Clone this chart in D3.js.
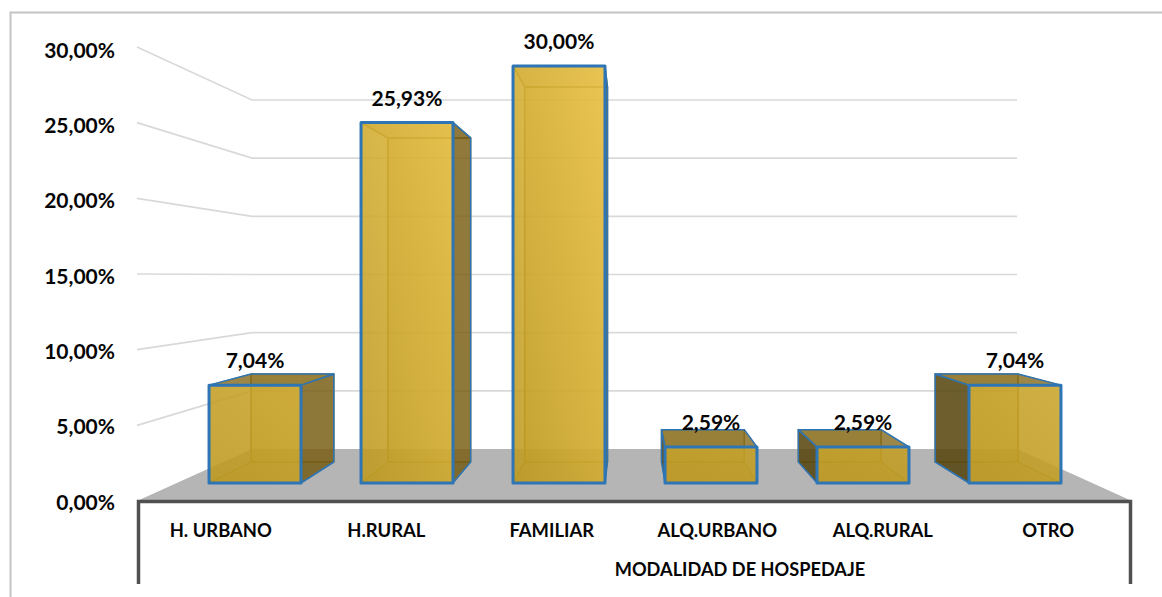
<!DOCTYPE html>
<html>
<head>
<meta charset="utf-8">
<script src="https://cdn.jsdelivr.net/npm/d3@7"></script>
<style>
html, body { margin: 0; padding: 0; background: #fff; }
svg { display: block; }
text { font-family: Lato, "Open Sans", sans-serif; font-weight: 700; fill: #050505; }
</style>
</head>
<body>
<div class="container"></div>
<script>
const categories = ["H. URBANO", "H.RURAL", "FAMILIAR", "ALQ.URBANO", "ALQ.RURAL", "OTRO"];
const values = [7.04, 25.93, 30.00, 2.59, 2.59, 7.04];
const tickValues = [0, 5, 10, 15, 20, 25, 30];
const axisTitle = "MODALIDAD DE HOSPEDAJE";

const width = 1162, height = 597;
const BLUE = "#2e75b6", OLIVE = "#8f7b2c";
const fmt = v => v.toFixed(2).replace(".", ",") + "%";

const svg = d3.select(".container").append("svg")
    .attr("width", width)
    .attr("height", height);

// the 3d look is just four planes, each with its own y scale
const yEdge = d3.scaleLinear().domain([0, 30]).range([501, 47]);   // left edge of the wall
const yWall = d3.scaleLinear().domain([0, 30]).range([449, 100]);  // back wall
const yFront = d3.scaleLinear().domain([0, 30]).range([483, 66]);  // front of the bars
const yBack = d3.scaleLinear().domain([0, 30]).range([462, 87]);   // back of the bars
const yTicks = d3.scaleLinear().domain([0, 30]).range([502, 50]);  // tick labels sit a bit off the edge

const xFront = d3.scaleBand().domain(categories).range([149, 1121]).padding(.395);
const xBack = d3.scaleBand().domain(categories).range([197, 1072]).padding(.395);
const xLabels = d3.scaleBand().domain(categories).range([138, 1131]);

const edgeX = 137, wallL = 252, wallR = 1017, edgeR = 1132;

// taller bars reach a lighter gold
const goldTop = d3.scaleLinear().domain([0, 30]).range(["#c09c22", "#e9c044"]);
const defs = svg.append("defs");
categories.forEach((c, i) => {
    const grad = defs.append("linearGradient")
        .attr("id", "gold" + i)
        .attr("x1", 0).attr("y1", 1).attr("x2", 1).attr("y2", 0);
    grad.append("stop").attr("offset", 0).attr("stop-color", "#bd991f");
    grad.append("stop").attr("offset", 1).attr("stop-color", goldTop(values[i]));
});

// frame of the picture
svg.append("path")
    .attr("d", "M10.5,597V12.5H1162")
    .attr("fill", "none")
    .attr("stroke", "#c4c4c4")
    .attr("stroke-width", 2);

// floor
svg.append("polygon")
    .attr("points", [[edgeX, yEdge(0)], [wallL, yWall(0)], [wallR, yWall(0)], [edgeR, yEdge(0)]].join(" "))
    .attr("fill", "#b5b5b5");

// gridlines, bent where the side wall meets the back wall
svg.append("g").selectAll("polyline")
    .data(tickValues.filter(d => d > 0))
    .enter()
    .append("polyline")
    .attr("points", d => [[edgeX, yEdge(d)], [wallL, yWall(d)], [wallR, yWall(d)]].join(" "))
    .attr("fill", "none")
    .attr("stroke", "#d9d9d9")
    .attr("stroke-width", 1.7);

// y axis labels
const yAxis = svg.append("g")
    .attr("transform", "translate(115,0)")
    .call(d3.axisLeft(yTicks).tickValues(tickValues).tickFormat(fmt).tickSize(0).tickPadding(0));
yAxis.select(".domain").remove();
yAxis.selectAll("text").style("font-size", "21px").attr("dy", ".34em");

// bars
const bars = svg.append("g").selectAll("g")
    .data(categories.map((c, i) => ({ c: c, v: values[i], i: i })))
    .enter()
    .append("g");

const poly = (sel, pts, fill, opacity, stroke, sw) => sel.append("polygon")
    .attr("points", pts.join(" "))
    .attr("fill", fill)
    .attr("fill-opacity", opacity)
    .attr("stroke", stroke)
    .attr("stroke-width", sw)
    .attr("stroke-linejoin", "round");

bars.each(function (d) {
    const g = d3.select(this);
    const fl = xFront(d.c), fr = fl + xFront.bandwidth();
    const bl = xBack(d.c), br = bl + xBack.bandwidth();
    const ft = yFront(d.v), fb = yFront(0), bt = yBack(d.v), bb = yBack(0);
    const gold = `url(#gold${d.i})`;

    const backFace = [[bl, bt], [br, bt], [br, bb], [bl, bb]];
    const floorFace = [[fl, fb], [fr, fb], [br, bb], [bl, bb]];
    const leftFace = [[fl, ft], [bl, bt], [bl, bb], [fl, fb]];
    const rightFace = [[fr, ft], [br, bt], [br, bb], [fr, fb]];
    const topFace = [[fl, ft], [fr, ft], [br, bt], [bl, bt]];

    // faces behind the front one
    poly(g, backFace, gold, .35, OLIVE, 1.5);
    poly(g, floorFace, "#a8861a", .3, OLIVE, 1);
    if (br <= fr) poly(g, rightFace, "none", 0, OLIVE, 1);
    if (bl >= fl) poly(g, leftFace, "none", 0, OLIVE, 1);
    if (bt >= ft) poly(g, topFace, "#b8952a", .3, OLIVE, 1.5);

    // faces seen from outside
    if (br > fr) poly(g, rightFace, "#6f5610", .75, BLUE, 1.5);
    if (bl < fl) poly(g, leftFace, "#4f3e0c", .8, BLUE, 1.5);
    if (bt < ft) poly(g, topFace, "#85691a", .8, BLUE, 1.5);

    poly(g, [[fl, ft], [fr, ft], [fr, fb], [fl, fb]], gold, .88, BLUE, 3);
});

// value labels
bars.append("text")
    .attr("x", d => xFront(d.c) + xFront.bandwidth() / 2)
    .attr("y", d => yFront(d.v) - 24)
    .attr("dy", ".35em")
    .attr("text-anchor", "middle")
    .attr("font-size", 21)
    .text(d => fmt(d.v));

// category table below the floor
svg.append("path")
    .attr("d", "M138.5,584V501.5H1130.5V584")
    .attr("fill", "none")
    .attr("stroke", "#505050")
    .attr("stroke-width", 3.5);

const xAxis = svg.append("g")
    .attr("transform", "translate(0,531)")
    .call(d3.axisBottom(xLabels).tickSize(0).tickPadding(0));
xAxis.select(".domain").remove();
xAxis.selectAll("text").attr("dy", ".35em").attr("y", 0).style("font-size", "18.4px");

svg.append("text")
    .attr("x", 740)
    .attr("y", 570)
    .attr("dy", ".35em")
    .attr("text-anchor", "middle")
    .attr("font-size", 18.2)
    .text(axisTitle);
</script>
</body>
</html>
